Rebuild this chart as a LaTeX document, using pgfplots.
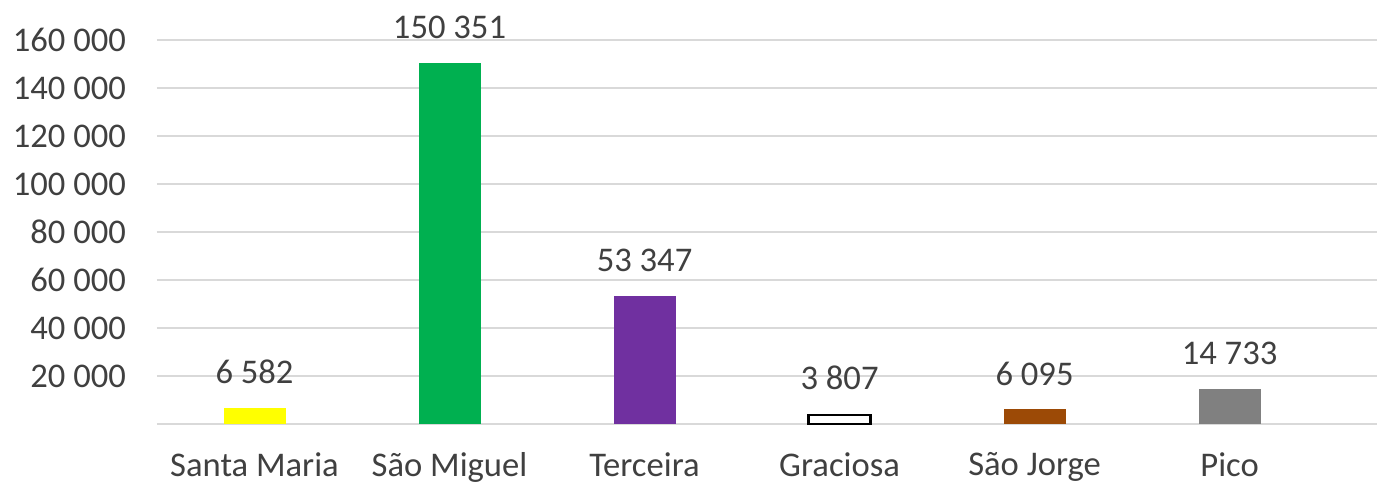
\documentclass[border=0pt]{standalone}
\usepackage{fontspec}
\setmainfont{Carlito}
\usepackage{pgfplots}
\pgfplotsset{compat=1.18}
\definecolor{txt}{HTML}{404040}
\definecolor{gridc}{HTML}{D9D9D9}
\definecolor{cyel}{HTML}{FFFF00}
\definecolor{cgrn}{HTML}{00B050}
\definecolor{cpur}{HTML}{7030A0}
\definecolor{cbrn}{HTML}{9C4A06}
\definecolor{cgry}{HTML}{808080}
\begin{document}
\begin{tikzpicture}
\useasboundingbox (-78.5pt,-30pt) rectangle (610pt,212pt);
\begin{axis}[
  at={(0,0)}, anchor=south west,
  scale only axis,
  width=610pt, height=212pt,
  xmin=-0.5, xmax=5.756,
  ymin=0, ymax=176667,
  axis line style={draw=none},
  ybar, bar width=31pt, bar shift=0pt,
  xtick={0,1,2,3,4,5},
  xticklabels={Santa Maria, São Miguel, Terceira, Graciosa, São Jorge, Pico},
  ytick={20000,40000,60000,80000,100000,120000,140000,160000},
  yticklabels={20 000,40 000,60 000,80 000,100 000,120 000,140 000,160 000},
  tick style={draw=none},
  ymajorgrids,
  grid style={gridc, line width=1pt},
  ticklabel style={font=\fontsize{17.3}{20}\selectfont, text=txt},
  yticklabel style={xshift=-12pt},
  xticklabel style={yshift=-6.5pt},
  point meta=explicit symbolic,
  nodes near coords,
  every node near coord/.append style={font=\fontsize{17.3}{20}\selectfont, text=txt, yshift=8.5pt},
  clip=false,
]
\draw[gridc, line width=1pt] (axis cs:-0.5,0) -- (axis cs:5.756,0);
\addplot[fill=cyel, draw=none] coordinates {(0,6582) [6 582]};
\addplot[fill=cgrn, draw=none] coordinates {(1,150351) [150 351]};
\addplot[fill=cpur, draw=none] coordinates {(2,53347) [53 347]};
\addplot[fill=white, draw=black, line width=1.2pt] coordinates {(3,3807) [3 807]};
\addplot[fill=cbrn, draw=none] coordinates {(4,6095) [6 095]};
\addplot[fill=cgry, draw=none] coordinates {(5,14733) [14 733]};
\end{axis}
\end{tikzpicture}
\end{document}
